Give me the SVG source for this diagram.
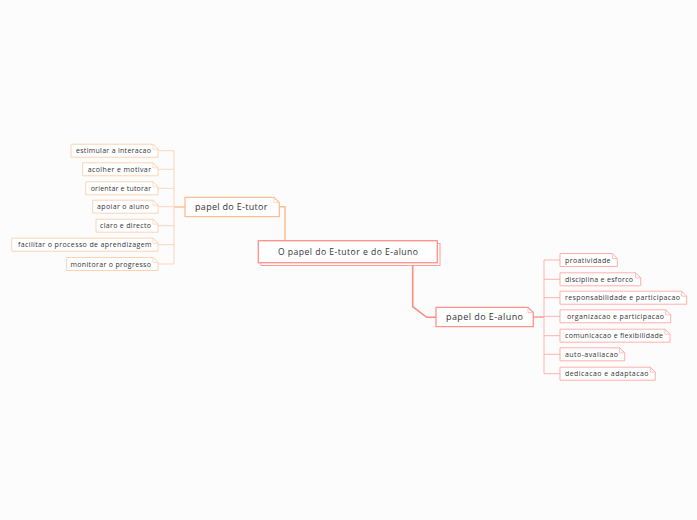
<svg xmlns="http://www.w3.org/2000/svg" width="697" height="520" viewBox="0 0 697 520">
<style>
text{font-family:"Open Sans","Liberation Sans",sans-serif;fill:#333;}
.t7{font-size:7px;}
.lc{fill:#fff;stroke:#FDD3B4;stroke-width:1;}
.rc{fill:#fff;stroke:#FFB0AA;stroke-width:1;}
.lp{fill:#fff;stroke:#FDBE93;stroke-width:1.3;}
.rp{fill:#fff;stroke:#FF928A;stroke-width:1.3;}
.fl{fill:none;stroke:#FDD3B4;stroke-width:0.8;}
.fr{fill:none;stroke:#FFB0AA;stroke-width:0.8;}
.cl{fill:none;stroke:#FDD6BA;stroke-width:1;}
.cr{fill:none;stroke:#FFB3AD;stroke-width:1;}
</style>
<rect width="697" height="520" fill="#FCFCFC"/>
<g id="connectors">
  <path class="cl" d="M158 150.7H174M158 169.3H174M158 188.3H174M158 206.7H174M158 225.7H174M158 244.7H174M158 264H174M174 150.7V264"/>
  <path fill="none" stroke="#FDC49E" stroke-width="1.5" d="M174 207H185"/>
  <path fill="none" stroke="#FDBE93" stroke-width="1.5" d="M279.3 206.7L285 206.7V240.7"/>
  <path fill="none" stroke="#FF8A82" stroke-width="1.6" d="M412.7 262.7V306.7L426.7 317.3H436"/>
  <path fill="none" stroke="#FF9A93" stroke-width="1.5" d="M533.3 317H544"/>
  <path class="cr" d="M544 260H560M544 279.3H560M544 297.7H560M544 316.3H560M544 335.7H560M544 354.3H560M544 373.7H560M544 260V373.7"/>
</g>
<g id="root">
  <rect x="261" y="243.5" width="179" height="22" fill="#fff" stroke="#FF9C95" stroke-width="1"/>
  <rect x="258.3" y="240.7" width="179" height="22" fill="#fff" stroke="#FF9089" stroke-width="1.3"/>
  <text x="348" y="255" font-size="8.6" text-anchor="middle" textLength="140" lengthAdjust="spacing">O papel do E-tutor e do E-aluno</text>
</g>
<g id="etutor">
  <path class="lp" d="M185 197.3H274L279.3 202.6V216.7H185Z"/>
  <path class="fl" d="M274 197.3V202.6H279.3"/>
  <text x="195" y="210" font-size="9" textLength="72.5" lengthAdjust="spacing">papel do E-tutor</text>
</g>
<g id="ealuno">
  <path class="rp" d="M436 307.3H528L533.3 312.6V326.7H436Z"/>
  <path class="fr" d="M528 307.3V312.6H533.3"/>
  <text x="446" y="320.3" font-size="9" textLength="77" lengthAdjust="spacing">papel do E-aluno</text>
</g>
<g id="l1"><path class="lc" d="M71 144.2H153L158 149.2V157.2H71Z"/><path class="fl" d="M153 144.2V149.2H158"/><text class="t7" x="76" y="153.2" textLength="75" lengthAdjust="spacing">estimular a interacao</text></g>
<g id="l2"><path class="lc" d="M82.7 162.8H153L158 167.8V175.8H82.7Z"/><path class="fl" d="M153 162.8V167.8H158"/><text class="t7" x="87.7" y="171.8" textLength="63.3" lengthAdjust="spacing">acolher e  motivar</text></g>
<g id="l3"><path class="lc" d="M85.7 181.8H153L158 186.8V194.8H85.7Z"/><path class="fl" d="M153 181.8V186.8H158"/><text class="t7" x="90.7" y="190.8" textLength="60.3" lengthAdjust="spacing">orientar e tutorar</text></g>
<g id="l4"><path class="lc" d="M92.7 200.2H153L158 205.2V213.2H92.7Z"/><path class="fl" d="M153 200.2V205.2H158"/><text class="t7" x="97" y="209.2" textLength="52" lengthAdjust="spacing">apoiar o aluno</text></g>
<g id="l5"><path class="lc" d="M96 219.2H153L158 224.2V232.2H96Z"/><path class="fl" d="M153 219.2V224.2H158"/><text class="t7" x="100" y="228.2" textLength="51" lengthAdjust="spacing">claro e directo</text></g>
<g id="l6"><path class="lc" d="M11.7 238.2H153L158 243.2V251.2H11.7Z"/><path class="fl" d="M153 238.2V243.2H158"/><text class="t7" x="18" y="247.2" textLength="133.5" lengthAdjust="spacing">facilitar o processo de aprendizagem</text></g>
<g id="l7"><path class="lc" d="M66.7 257.5H153L158 262.5V270.5H66.7Z"/><path class="fl" d="M153 257.5V262.5H158"/><text class="t7" x="70.5" y="266.5" textLength="80.5" lengthAdjust="spacing">monitorar o progresso</text></g>
<g id="r1"><path class="rc" d="M560 253.5H612.3L617.3 258.5V266.5H560Z"/><path class="fr" d="M612.3 253.5V258.5H617.3"/><text class="t7" x="565" y="262.5" textLength="45.5" lengthAdjust="spacing">proatividade</text></g>
<g id="r2"><path class="rc" d="M560 272.8H635.7L640.7 277.8V285.8H560Z"/><path class="fr" d="M635.7 272.8V277.8H640.7"/><text class="t7" x="565" y="281.8" textLength="68" lengthAdjust="spacing">disciplina e esforco</text></g>
<g id="r3"><path class="rc" d="M560 291.2H681.7L686.7 296.2V304.2H560Z"/><path class="fr" d="M681.7 291.2V296.2H686.7"/><text class="t7" x="565" y="300.2" textLength="115" lengthAdjust="spacing">responsabilidade e participacao</text></g>
<g id="r4"><path class="rc" d="M560 309.8H665.7L670.7 314.8V322.8H560Z"/><path class="fr" d="M665.7 309.8V314.8H670.7"/><text class="t7" x="567" y="318.8" textLength="97" lengthAdjust="spacing">organizacao e participacao</text></g>
<g id="r5"><path class="rc" d="M560 329.2H665L670 334.2V342.2H560Z"/><path class="fr" d="M665 329.2V334.2H670"/><text class="t7" x="565" y="338.2" textLength="98" lengthAdjust="spacing">comunicacao e flexibilidade</text></g>
<g id="r6"><path class="rc" d="M560 347.8H619.7L624.7 352.8V360.8H560Z"/><path class="fr" d="M619.7 347.8V352.8H624.7"/><text class="t7" x="565" y="356.8" textLength="53" lengthAdjust="spacing">auto-avaliacao</text></g>
<g id="r7"><path class="rc" d="M560 367.2H650.3L655.3 372.2V380.2H560Z"/><path class="fr" d="M650.3 367.2V372.2H655.3"/><text class="t7" x="565" y="376.2" textLength="83.5" lengthAdjust="spacing">dedicacao e adaptacao</text></g>
</svg>
